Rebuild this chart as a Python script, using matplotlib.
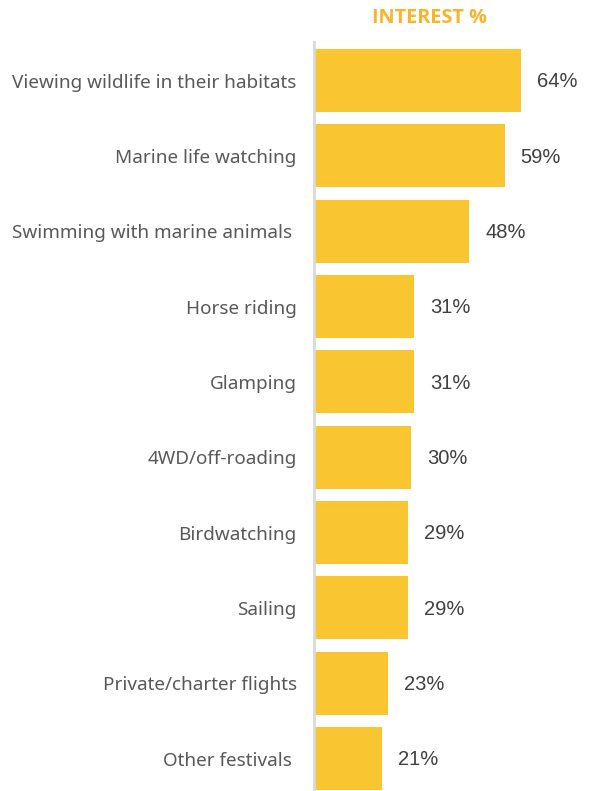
import matplotlib
matplotlib.use("Agg")
import matplotlib.pyplot as plt

categories = [
    "Viewing wildlife in their habitats",
    "Marine life watching",
    "Swimming with marine animals ",
    "Horse riding",
    "Glamping",
    "4WD/off-roading",
    "Birdwatching",
    "Sailing",
    "Private/charter flights",
    "Other festivals ",
]
values = [64, 59, 48, 31, 31, 30, 29, 29, 23, 21]
value_labels = ["64%", "59%", "48%", "31%", "31%", "30%", "29%", "29%", "23%", "21%"]
title = "INTEREST %"

W, H = 593, 791
fig = plt.figure(figsize=(W / 100, H / 100), dpi=100)
ax = fig.add_axes([314 / W, 0, (W - 314) / W, 1 - 42 / H])

bar_color = "#F9C530"
pos = list(range(len(categories)))
ax.barh(pos, values, height=0.837, color=bar_color, zorder=2)
ax.set_xlim(0, (W - 314) / 3.23)
ax.set_ylim(9.43, -0.511)

ax.set_yticks(pos)
ax.set_yticklabels(categories, fontsize=13.6, color="#595959", family=["Noto Sans", "DejaVu Sans"])
ax.tick_params(axis="y", length=0, pad=12.5)
ax.set_xticks([])

for s in ["top", "right", "bottom"]:
    ax.spines[s].set_visible(False)
ax.spines["left"].set_color("#D9D9D9")
ax.spines["left"].set_linewidth(2)

for p, v, lab in zip(pos, values, value_labels):
    ax.annotate(lab, xy=(v, p), xytext=(11.5, -1), textcoords="offset points",
                ha="left", va="center", fontsize=14.5, color="#404040",
                family=["Liberation Sans", "DejaVu Sans"])

fig.text(429.5 / W, 1 - 18 / H, title, ha="center", va="center", fontsize=14.3,
         fontweight="bold", color="#F9B42A", family=["Open Sans", "DejaVu Sans"])

fig.savefig("out.png", dpi=100)
